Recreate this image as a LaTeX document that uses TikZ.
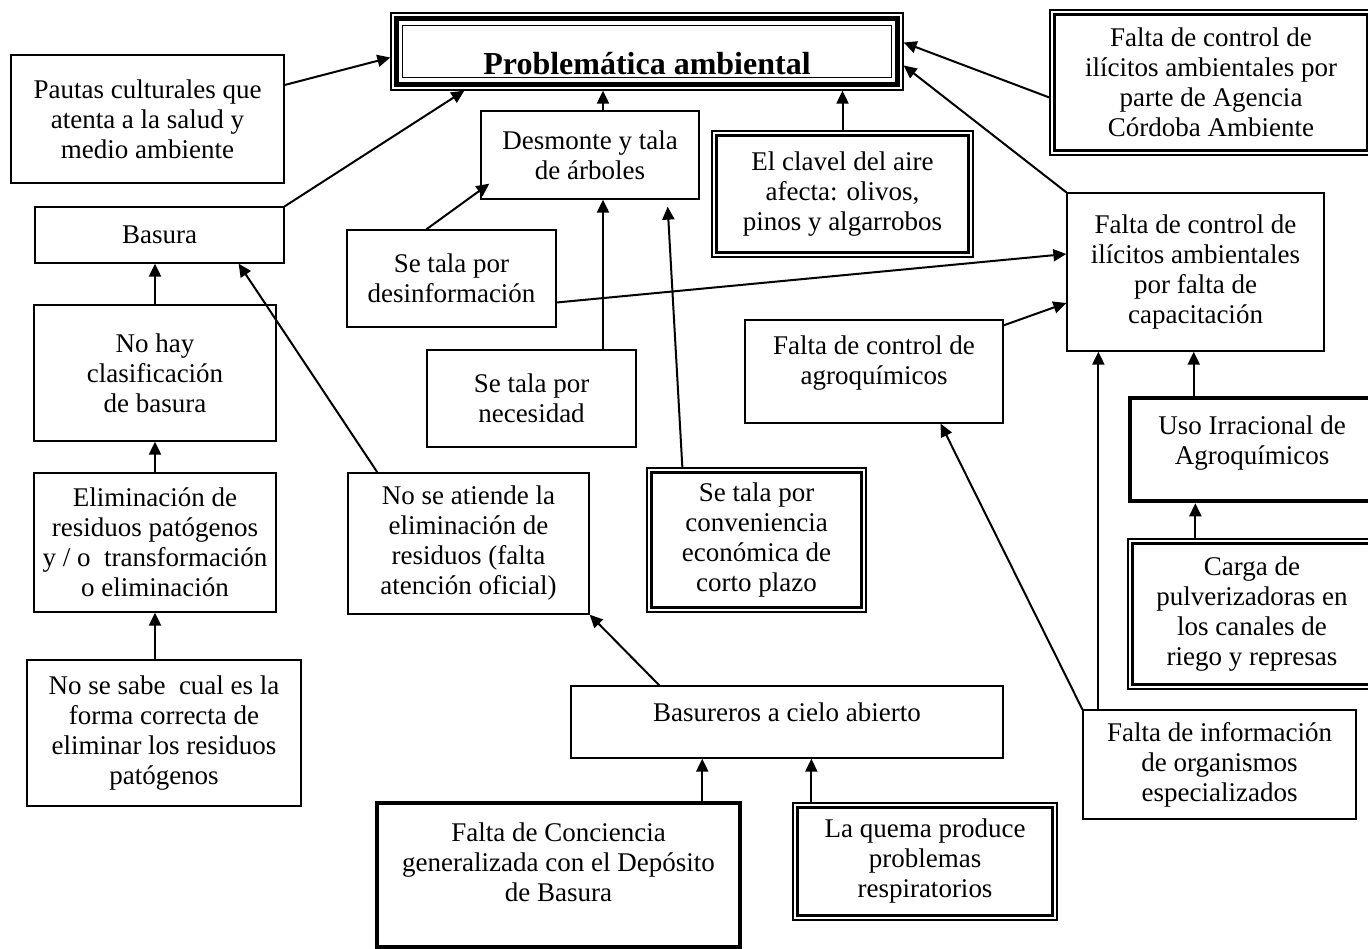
\documentclass[tikz,border=0pt]{standalone}
\usepackage{fontspec}
\setmainfont{Liberation Serif}
\usetikzlibrary{arrows.meta, calc}

\tikzset{
  box/.style={draw, line width=1.3pt, align=center, inner sep=0pt,
    font=\fontsize{27}{30}\selectfont},
  thickbox/.style={box, line width=4.5pt},
  arr/.style={-{Triangle[length=13pt,width=12pt]}, line width=2pt}
}

\begin{document}
\begin{tikzpicture}[x=1pt, y=-1pt]
    \path[use as bounding box, fill=white] (0,0) rectangle (1368,949);

    % top
    \node[box, minimum width=512pt, minimum height=77pt, text height=46pt, text depth=0pt,
      font=\bfseries\fontsize{32}{36}\selectfont] (prob) at (647,51.5) {Problemática ambiental};
    \draw[line width=4.5pt] ([shift={(6pt,6pt)}]prob.south west) rectangle ([shift={(-6pt,-6pt)}]prob.north east);
    \draw[line width=1.3pt] ([shift={(12pt,13pt)}]prob.south west) rectangle ([shift={(-12pt,-13pt)}]prob.north east);

    \node[box, minimum width=273pt, minimum height=128pt] (pautas) at (147.5,119) {Pautas culturales que\\atenta a la salud y\\medio ambiente};
    \node[box, minimum width=322pt, minimum height=145pt] (agencia) at (1211,82.5) {Falta de control de\\ilícitos ambientales por\\parte de Agencia\\Córdoba Ambiente};

    % basura
    \node[box, minimum width=249pt, minimum height=56pt] (basura) at (159.5,235) {Basura};
    \node[box, minimum width=242pt, minimum height=136pt] (clasif) at (155,373) {No hay\\clasificación\\de basura};
    \node[box, minimum width=242pt, minimum height=139pt] (elim) at (155,542.5) {Eliminación de\\residuos patógenos\\y / o \ transformación\\o eliminación};
    \node[box, minimum width=274pt, minimum height=146pt] (nosabe) at (164,733) {No se sabe \ cual es la\\forma correcta de\\eliminar los residuos\\patógenos};
    \node[box, minimum width=241pt, minimum height=141pt] (atiende) at (468.5,543.5) {No se atiende la\\eliminación de\\residuos (falta\\atención oficial)};
    \node[box, minimum width=432pt, minimum height=72pt, text depth=20pt] (basureros) at (787,722) {Basureros a cielo abierto};
    \node[thickbox, minimum width=363pt, minimum height=144pt, text depth=26pt] (conciencia) at (558.5,875) {Falta de Conciencia\\generalizada con el Depósito\\de Basura};
    \node[box, minimum width=264pt, minimum height=117pt] (quema) at (925,861.5) {La quema produce\\problemas\\respiratorios};

    % desmonte
    \node[box, minimum width=218pt, minimum height=88pt] (desmonte) at (590,155) {Desmonte y tala\\de árboles};
    \node[box, minimum width=209pt, minimum height=97pt] (desinfo) at (451.5,278.5) {Se tala por\\desinformación};
    \node[box, minimum width=209pt, minimum height=97pt] (necesidad) at (531.5,398.5) {Se tala por\\necesidad};
    \node[box, minimum width=219pt, minimum height=144pt] (conven) at (756.5,540) {Se tala por\\conveniencia\\económica de\\corto plazo};
    \node[box, minimum width=261pt, minimum height=126pt] (clavel) at (842.5,194) {El clavel del aire\\afecta: olivos,\\pinos y algarrobos};

    % agroquimicos
    \node[box, minimum width=257pt, minimum height=158pt] (capacit) at (1195.5,272) {Falta de control de\\ilícitos ambientales\\por falta de\\capacitación};
    \node[box, minimum width=258pt, minimum height=103pt, text depth=22pt] (agroq) at (874,371.5) {Falta de control de\\agroquímicos};
    \node[thickbox, minimum width=244pt, minimum height=103pt, text depth=18pt] (uso) at (1252,449.5) {Uso Irracional de\\Agroquímicos};
    \node[box, minimum width=248pt, minimum height=150pt] (carga) at (1252,614) {Carga de\\pulverizadoras en\\los canales de\\riego y represas};
    \node[box, minimum width=273pt, minimum height=109pt] (falinfo) at (1219.5,764.5) {Falta de información\\de organismos\\especializados};

    % double frames
    \foreach \n in {agencia, conven, clavel, carga, quema}
        \draw[line width=2.4pt] ([shift={(5pt,5pt)}]\n.south west) rectangle ([shift={(-5pt,-5pt)}]\n.north east);

    \path[arr]
    ([yshift=34pt]pautas.east) edge ([yshift=-6pt]prob.west)
    (basura.north east) edge ([xshift=74pt]prob.south west)
    ([xshift=13pt]desmonte.north) edge ([xshift=13pt]desmonte.north |- prob.south)
    (clavel.north) edge (clavel.north |- prob.south)
    ([yshift=-15pt]agencia.west) edge ([yshift=9pt]prob.east)
    (capacit.north west) edge ([yshift=-14pt]prob.east)
    (clasif.north) edge (clasif.north |- basura.south)
    (elim.north) edge (elim.north |- clasif.south)
    (elim.south |- nosabe.north) edge (elim.south)
    ([xshift=30pt]atiende.north west) edge ([xshift=-46pt]basura.south east)
    ([xshift=80pt]desinfo.north west) edge ([shift={(9pt,16pt)}]desmonte.south west)
    ([yshift=-24pt]desinfo.east) edge ([yshift=18pt]capacit.west)
    ([xshift=13pt]desmonte.south |- necesidad.north) edge ([xshift=13pt]desmonte.south)
    ([xshift=36pt]conven.north west) edge ([shift={(-32pt,-7pt)}]desmonte.south east)
    ([xshift=89pt]basureros.north west) edge (atiende.south east)
    ([xshift=-40pt]conciencia.north east) edge ([xshift=-40pt]conciencia.north east |- basureros.south)
    ([xshift=19pt]quema.north west) edge ([xshift=19pt]quema.north west |- basureros.south)
    ([yshift=-6pt]agroq.north east) edge ([yshift=-31pt]capacit.west)
    ([xshift=66pt]uso.north west) edge ([xshift=66pt]uso.north west |- capacit.south)
    ([xshift=68pt]carga.north west) edge ([xshift=68pt]carga.north west |- uso.south)
    ([xshift=16pt]falinfo.north west) edge ([xshift=16pt]falinfo.north west |- capacit.south)
    (falinfo.north west) edge ([xshift=-63pt]agroq.south east);
\end{tikzpicture}
\end{document}
